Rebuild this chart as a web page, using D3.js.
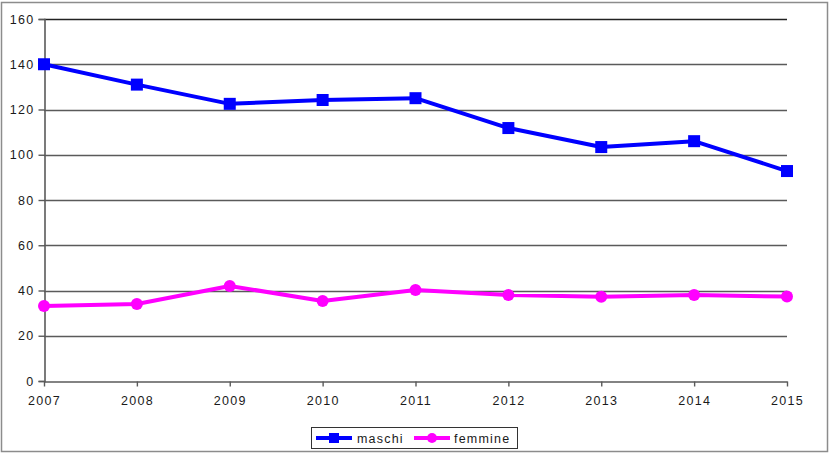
<!DOCTYPE html>
<html><head><meta charset="utf-8">
<script src="https://cdn.jsdelivr.net/npm/d3@7"></script>
<style>html,body{margin:0;padding:0;background:#fff;}svg{display:block;}</style>
</head><body>
<svg id="chart" width="832" height="459"></svg>
<script>
const years = [2007, 2008, 2009, 2010, 2011, 2012, 2013, 2014, 2015];
const maschi = [140, 131, 122.5, 124.2, 125, 111.8, 103.4, 106, 92.8];
const femmine = [33.2, 34, 42, 35.4, 40.2, 38, 37.2, 38, 37.3];
const yTicks = [0, 20, 40, 60, 80, 100, 120, 140, 160];
const seriesNames = ["maschi", "femmine"];
const colors = ["#0000ff", "#ff00ff"];

const svg = d3.select("#chart");
const font = "'Liberation Sans', Arial, sans-serif";

// outer frame
svg.append("rect").attr("x", 1.5).attr("y", 2.5).attr("width", 826).attr("height", 449)
  .attr("fill", "#fff").attr("stroke", "#8c8c8c").attr("stroke-width", 1.5);

const x = d3.scalePoint().domain(years).range([44, 787]);
const y = d3.scaleLinear().domain([0, 160]).range([381, 19]);

// gridlines
svg.append("g").selectAll("line").data(yTicks.filter(d => d > 0)).join("line")
  .attr("x1", 44).attr("x2", 787)
  .attr("y1", d => Math.round(y(d)) + 0.5).attr("y2", d => Math.round(y(d)) + 0.5)
  .attr("stroke", d => d === 160 ? "#222" : "#5a5a5a").attr("stroke-width", 1.4);

// y axis
const yAxis = svg.append("g").attr("transform", "translate(44.5,0)")
  .call(d3.axisLeft(y).tickValues(yTicks).tickSize(6).tickPadding(4));
yAxis.select(".domain").attr("stroke", "#5a5a5a").attr("stroke-width", 1.6);
yAxis.selectAll(".tick line").attr("stroke", "#5a5a5a").attr("stroke-width", 1.4);
yAxis.selectAll("text").attr("font-family", font).attr("font-size", 12.5)
  .attr("letter-spacing", "1.3px").attr("fill", "#1a1a1a");

// x axis
const xAxis = svg.append("g").attr("transform", "translate(0,381.5)")
  .call(d3.axisBottom(x).tickSize(5).tickPadding(10).tickSizeOuter(0));
xAxis.select(".domain").attr("stroke", "#5a5a5a").attr("stroke-width", 1.6);
xAxis.selectAll(".tick line").attr("stroke", "#5a5a5a").attr("stroke-width", 1.4);
xAxis.selectAll("text").attr("font-family", font).attr("font-size", 12.5)
  .attr("letter-spacing", "1.3px").attr("fill", "#1a1a1a");

const line = d3.line().x((d, i) => x(years[i])).y(d => y(d));
const data = [maschi, femmine];

data.forEach((vals, si) => {
  svg.append("path").datum(vals).attr("d", line)
    .attr("fill", "none").attr("stroke", colors[si]).attr("stroke-width", 4)
    .attr("stroke-linejoin", "round");
  if (si === 0) {
    svg.append("g").selectAll("rect").data(vals).join("rect")
      .attr("x", (d, i) => x(years[i]) - 6).attr("y", d => y(d) - 6)
      .attr("width", 12).attr("height", 12).attr("fill", colors[si]);
  } else {
    svg.append("g").selectAll("circle").data(vals).join("circle")
      .attr("cx", (d, i) => x(years[i])).attr("cy", d => y(d))
      .attr("r", 6).attr("fill", colors[si]);
  }
});

// legend
const lg = svg.append("g");
lg.append("rect").attr("x", 311.5).attr("y", 427.5).attr("width", 206).attr("height", 21)
  .attr("fill", "#fff").attr("stroke", "#333").attr("stroke-width", 1);
const items = [{x: 316, tx: 357}, {x: 414, tx: 454}];
seriesNames.forEach((name, i) => {
  const it = items[i];
  lg.append("line").attr("x1", it.x).attr("x2", it.x + 36).attr("y1", 438).attr("y2", 438)
    .attr("stroke", colors[i]).attr("stroke-width", 4);
  if (i === 0) lg.append("rect").attr("x", it.x + 13).attr("y", 433).attr("width", 10).attr("height", 10).attr("fill", colors[i]);
  else lg.append("circle").attr("cx", it.x + 18).attr("cy", 438).attr("r", 5).attr("fill", colors[i]);
  lg.append("text").attr("x", it.tx).attr("y", 442.5).text(name)
    .attr("font-family", font).attr("font-size", 12.5).attr("letter-spacing", "1.2px").attr("fill", "#1a1a1a");
});
</script>
</body></html>
